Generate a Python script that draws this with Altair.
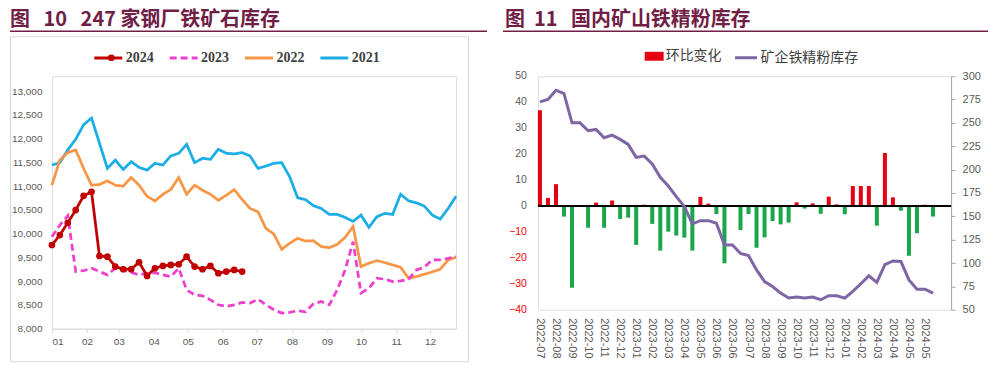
import json
import pandas as pd
import altair as alt

MAROON = "#701E46"
GRAY = "#595959"
DARK = "#404040"
CJK = "Noto Sans CJK SC"
SANS = "Liberation Sans"

# ---------------- left panel: weekly inventory, seasonal (Jan..Dec) ----------------
left_title = "图\u00a0\u00a0\u00a010\u00a0\u00a0\u00a0247\u00a0家钢厂铁矿石库存"
years = ["2024", "2023", "2022", "2021"]
year_colors = ["#C00000", "#EE40CC", "#F79646", "#1BADE6"]
year_dashes = [[1, 0], [7, 4], [1, 0], [1, 0]]
month_labels = ["01", "02", "03", "04", "05", "06", "07", "08", "09", "10", "11", "12"]

v2024 = [9762, 9972, 10231, 10497, 10797, 10881, 9531, 9517, 9308, 9252, 9252, 9399, 9112,
         9273, 9322, 9343, 9357, 9517, 9308, 9252, 9322, 9168, 9203, 9238, 9203]
v2023 = [9937, 10180, 10380, 9203, 9224, 9273, 9203, 9133, 9273, 9238, 9182, 9133, 9168,
         9180, 9133, 9098, 9273, 8818, 8713, 8692, 8608, 8503, 8469, 8503, 8552, 8538,
         8622, 8503, 8399, 8329, 8343, 8378, 8357, 8524, 8573, 8503, 8818, 9238, 9832,
         8750, 8853, 9063, 9042, 8993, 9007, 9042, 9238, 9294, 9448, 9448, 9483, 9517]
v2022 = [11021, 11550, 11707, 11763, 11375, 11021, 11035, 11113, 11021, 11000, 11184, 11021,
         10788, 10689, 10830, 10929, 11184, 10830, 11021, 10915, 10830, 10703, 10809, 10929,
         10720, 10531, 10462, 10112, 9993, 9671, 9797, 9902, 9846, 9853, 9727, 9706, 9776,
         9923, 10150, 9308, 9378, 9434, 9392, 9343, 9294, 9063, 9098, 9147, 9196, 9252,
         9448, 9503]
v2021 = [11445, 11495, 11763, 11989, 12293, 12435, 11905, 11375, 11551, 11353, 11516, 11396,
         11339, 11481, 11445, 11636, 11693, 11883, 11495, 11587, 11565, 11777, 11693, 11679,
         11707, 11636, 11375, 11424, 11481, 11495, 11198, 10760, 10717, 10590, 10530, 10406,
         10406, 10343, 10260, 10392, 10133, 10357, 10427, 10406, 10832, 10692, 10650, 10580,
         10392, 10308, 10531, 10790]

rows = []
for yr, vals in [("2021", v2021), ("2022", v2022), ("2023", v2023), ("2024", v2024)]:
    dates = pd.date_range("2001-01-01", periods=len(vals), freq="7D")
    for d, v in zip(dates, vals):
        rows.append({"year": yr, "date": d.strftime("%Y-%m-%d"), "value": v})
left_df = pd.DataFrame(rows)

# ---------------- right panel: bi-weekly concentrate inventory ----------------
right_title = "图\u00a0\u00a011\u00a0\u00a0\u00a0国内矿山铁精粉库存"
chg = [36.9, 3.1, 8.4, -4.1, -31.5, 0, -8.4, 1.3, -8.4, 2.1, -5.0, -4.5, -15.0, 0.5, -6.9,
       -17.2, -9.9, -11.4, -12.2, -17.2, 3.5, 0.9, -3.1, -22.1, 0, -9.3, -3.1, -16.1, -12.1,
       -5.8, -7.1, -6.4, 1.4, -1.0, 1.0, -3.0, 3.6, 0.6, -3.2, 7.7, 7.7, 7.7, -7.6, 20.4, 3.3,
       -1.8, -19.2, -10.5, 0.5, -4.1]
stock = [272.5, 275.1, 285.0, 281.5, 250.1, 250.1, 241.6, 243.0, 234.1, 237.0, 232.4, 227.0,
         213.1, 214.5, 206.0, 191.8, 182.5, 171.1, 160.4, 141.9, 145.4, 145.4, 142.6, 119.4,
         119.4, 110.2, 108.1, 92.7, 80.2, 74.9, 67.8, 62.5, 63.6, 62.5, 63.6, 60.7, 65.0, 65.0,
         62.5, 69.6, 77.8, 86.3, 79.2, 98.2, 102.2, 101.6, 82.0, 72.0, 72.0, 67.8]
x_labels = ["2022-07", "2022-08", "2022-09", "2022-10", "2022-11", "2022-12", "2023-01",
            "2023-02", "2023-03", "2023-04", "2023-05", "2023-06", "2023-06", "2023-07",
            "2023-08", "2023-09", "2023-10", "2023-11", "2023-12", "2024-01", "2024-02",
            "2024-03", "2024-04", "2024-05", "2024-05"]
chg_ticks = [-40, -30, -20, -10, 0, 10, 20, 30, 40, 50]
n_slots = 52
leg_bar = "环比变化"
leg_line = "矿企铁精粉库存"
right_df = pd.DataFrame({"idx": list(range(len(chg))), "chg": chg, "stock": stock,
                         "bar_name": leg_bar, "line_name": leg_line})

one = pd.DataFrame({"k": [0]})

# ================= LEFT =================
W1, H1 = 405, 253


def dt(m, d):
    return alt.DateTime(year=2001, month=m, date=d, utc=True)


month_ticks = [int(pd.Timestamp(f"2001-{m:02d}-01", tz="UTC").timestamp() * 1000)
               for m in range(1, 13)]
x_left = alt.X("date:T",
               scale=alt.Scale(type="utc", domain=[dt(1, 1), dt(12, 24)]),
               axis=alt.Axis(values=month_ticks,
                             labelExpr=json.dumps(month_labels)
                             + "[utcmonth(datum.value)]",
                             labelOverlap=False, title=None, grid=False,
                             domainColor="#D9D9D9", tickColor="#D9D9D9", tickSize=4,
                             labelPadding=4, labelFont=SANS, labelFontSize=10,
                             labelColor=GRAY))
y_left = alt.Y("value:Q",
               scale=alt.Scale(domain=[8000, 13000], range=[H1, 15], nice=False, zero=False),
               axis=alt.Axis(values=list(range(8000, 13001, 500)), format=",.0f", title=None,
                             grid=False, domain=False, ticks=False, tickSize=0,
                             labelPadding=10, labelFont=SANS, labelFontSize=10,
                             labelColor=GRAY))
year_legend = alt.Legend(title=None, orient="none", legendX=41, legendY=-34,
                         direction="horizontal", symbolType="stroke", symbolSize=784,
                         symbolStrokeWidth=3, labelFont="Liberation Serif",
                         labelFontWeight="bold", labelFontSize=14, labelColor=DARK,
                         labelOffset=2, columnPadding=9.5, padding=0)

frame = alt.Chart(one).mark_rect(fillOpacity=0, stroke="#D9D9D9", strokeWidth=1).encode(
    x=alt.value(-41.5), x2=alt.value(417.5), y=alt.value(-39.5), y2=alt.value(286))
anchor = alt.Chart(one).mark_rule(opacity=0, strokeWidth=1).encode(
    x=alt.value(-42), x2=alt.value(-40), y=alt.value(-67.5))
title_l = alt.Chart(pd.DataFrame({"t": [left_title]})).mark_text(
    align="left", baseline="alphabetic", font=CJK, fontSize=20, fontWeight="bold",
    color=MAROON).encode(x=alt.value(-42), y=alt.value(-50), text="t:N")
under_l = alt.Chart(one).mark_rule(color=MAROON, strokeWidth=1.5).encode(
    x=alt.value(-42), x2=alt.value(436), y=alt.value(-45))
lines = alt.Chart(left_df).mark_line(strokeWidth=2.75).encode(
    x=x_left, y=y_left,
    color=alt.Color("year:N", scale=alt.Scale(domain=years, range=year_colors),
                    legend=year_legend),
    strokeDash=alt.StrokeDash("year:N", scale=alt.Scale(domain=years, range=year_dashes),
                              legend=year_legend))
pts = alt.Chart(left_df).transform_filter("datum.year == '2024'").mark_point(
    filled=True, size=45, opacity=1, color="#C00000").encode(
    x=x_left, y=y_left,
    shape=alt.Shape("year:N", scale=alt.Scale(domain=["2024"], range=["circle"]),
                    legend=alt.Legend(title=None, orient="none", legendX=54.5,
                                      legendY=-23.5, labelExpr="''", symbolSize=45,
                                      symbolFillColor="#C00000", symbolStrokeWidth=0,
                                      symbolOpacity=1, padding=0)))

left = alt.layer(frame, anchor, under_l, title_l, lines, pts).properties(width=W1, height=H1)

# ================= RIGHT =================
W2, H2 = 414, 234
RED = "#E50012"
GREEN = "#1AA64A"
PURPLE = "#7E66A6"

label_expr = ("datum.value % 2 == 0 && datum.value / 2 < " + str(len(x_labels)) + " ? "
              + json.dumps(x_labels, ensure_ascii=False) + "[datum.value / 2] : ''")
x_right = alt.X("idx:O",
                scale=alt.Scale(domain=list(range(n_slots)), paddingInner=0.5, paddingOuter=0),
                axis=alt.Axis(labelExpr=label_expr, labelAngle=90, labelOverlap=False,
                              title=None, domain=False, ticks=False, labelPadding=8,
                              labelFont=SANS, labelFontSize=11, labelColor=GRAY, grid=False))
chg_scale = alt.Scale(domain=[-40, 50], nice=False)
y_chg = alt.Y("chg:Q", scale=chg_scale, axis=None)

pos = alt.Chart(right_df).transform_filter("datum.chg > 0").mark_bar().encode(
    x=x_right, y=y_chg,
    fill=alt.Fill("bar_name:N",
                  scale=alt.Scale(domain=[leg_bar], range=[RED]),
                  legend=alt.Legend(title=None, orient="none", legendX=594,
                                    legendY=-29.5, direction="horizontal",
                                    symbolType="M-1,-0.47L1,-0.47L1,0.47L-1,0.47Z",
                                    symbolSize=361, symbolStrokeWidth=0,
                                    labelFont=CJK, labelFontSize=14, labelColor=DARK,
                                    labelOffset=2, padding=0)))
neg = alt.Chart(right_df).transform_filter("datum.chg < 0").mark_bar(color=GREEN).encode(
    x=x_right, y=y_chg)
zero = alt.Chart(pd.DataFrame({"chg": [0]})).mark_rule(color="black", strokeWidth=2).encode(
    y=y_chg)
# left-hand tick labels of the change axis (negative numbers shown in red)
chg_labels = alt.Chart(pd.DataFrame({"chg": chg_ticks})).mark_text(
    align="right", baseline="middle", font=SANS, fontSize=10.5).encode(
    y=y_chg, x=alt.value(-11), text=alt.Text("chg:Q", format="d"),
    color=alt.condition("datum.chg < 0", alt.value("#FF0000"), alt.value(GRAY)))

stock_line = alt.Chart(right_df).mark_line(strokeWidth=3).encode(
    x=x_right,
    y=alt.Y("stock:Q", scale=alt.Scale(domain=[50, 300], nice=False, zero=False),
            axis=alt.Axis(orient="right", values=list(range(50, 301, 25)), title=None,
                          grid=False, domainColor="#A6A6A6", tickColor="#A6A6A6",
                          tickSize=4, labelPadding=7, labelFont=SANS, labelFontSize=11,
                          labelColor=GRAY)),
    stroke=alt.Stroke("line_name:N",
                      scale=alt.Scale(domain=[leg_line], range=[PURPLE]),
                      legend=alt.Legend(title=None, orient="none", legendX=683,
                                        legendY=-31, direction="horizontal",
                                        symbolType="stroke", symbolSize=484,
                                        symbolStrokeWidth=3, labelFont=CJK,
                                        labelFontSize=14, labelColor=DARK,
                                        labelOffset=2, padding=0)))
title_r = alt.Chart(pd.DataFrame({"t": [right_title]})).mark_text(
    align="left", baseline="alphabetic", font=CJK, fontSize=20, fontWeight="bold",
    color=MAROON).encode(x=alt.value(-33), y=alt.value(-50), text="t:N")
under_r = alt.Chart(one).mark_rule(color=MAROON, strokeWidth=1.5).encode(
    x=alt.value(-35), x2=alt.value(451), y=alt.value(-45))

right = alt.layer(alt.layer(pos, neg, zero, chg_labels), stock_line, title_r,
                  under_r).resolve_scale(y="independent").properties(width=W2, height=H2)

chart = alt.hconcat(left, right, spacing=82, bounds="flush", padding=0).configure_view(
    stroke=None).configure(background="white")

chart.save("out.html", embed_options={"renderer": "svg", "actions": False})
